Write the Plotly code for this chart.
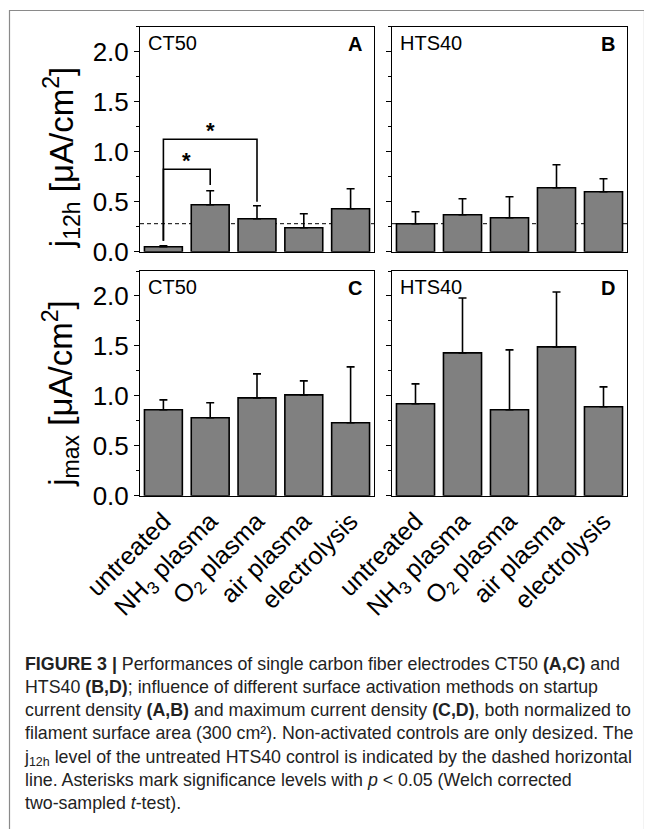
import plotly.graph_objects as go

# ---------------- data ----------------
categories = ["untreated", "NH3 plasma", "O2 plasma", "air plasma", "electrolysis"]
tick_labels = ["untreated", "NH<sub>3</sub> plasma", "O<sub>2</sub> plasma", "air plasma", "electrolysis"]

j12h_ct50 = [0.05, 0.47, 0.33, 0.24, 0.43]
j12h_ct50_err = [0.01, 0.14, 0.13, 0.14, 0.20]
j12h_hts40 = [0.28, 0.37, 0.34, 0.64, 0.60]
j12h_hts40_err = [0.12, 0.16, 0.21, 0.23, 0.13]

jmax_ct50 = [0.86, 0.78, 0.98, 1.01, 0.73]
jmax_ct50_err = [0.10, 0.15, 0.24, 0.14, 0.56]
jmax_hts40 = [0.92, 1.43, 0.86, 1.49, 0.89]
jmax_hts40_err = [0.20, 0.55, 0.60, 0.55, 0.20]

materials = ["CT50", "HTS40", "CT50", "HTS40"]
panel_letters = ["A", "B", "C", "D"]
y_titles = ["j<sub>12h</sub> [μA/cm<sup>2</sup>]", "j<sub>max</sub> [μA/cm<sup>2</sup>]"]

# significance brackets in panel A: (from, to, bracket height, drop level of right leg)
sig_pairs = [("untreated", "O2 plasma", 1.124, 0.50), ("untreated", "NH3 plasma", 0.824, 0.667)]
sig_left_leg_bottom = 0.11

caption = (
    "<b>FIGURE 3 |</b> Performances of single carbon fiber electrodes CT50 <b>(A,C)</b> and<br>"
    "HTS40 <b>(B,D)</b>; influence of different surface activation methods on startup<br>"
    "current density <b>(A,B)</b> and maximum current density <b>(C,D)</b>, both normalized to<br>"
    "filament surface area (300 cm²). Non-activated controls are only desized. The<br>"
    "j<sub>12h</sub> level of the untreated HTS40 control is indicated by the dashed horizontal<br>"
    "line. Asterisks mark significance levels with <i>p</i> &lt; 0.05 (Welch corrected<br>"
    "two-sampled <i>t</i>-test)."
)

# ---------------- layout helpers ----------------
WIN_W, WIN_H = 652, 829
OFF = 8  # default body margin of the html page
W, H = WIN_W - OFF, WIN_H - OFF
FONT = "Liberation Sans, Arial, sans-serif"


def px_x(v):
    """window pixel -> paper fraction"""
    return (v - OFF) / W


def px_y(v):
    return 1 - (v - OFF) / H


xpos = list(range(len(categories)))
col_x = [(140, 374), (392, 627)]
row_y = [(26.7, 251.7), (271, 495.7)]

series = [
    (j12h_ct50, j12h_ct50_err),
    (j12h_hts40, j12h_hts40_err),
    (jmax_ct50, jmax_ct50_err),
    (jmax_hts40, jmax_hts40_err),
]

fig = go.Figure()
layout = dict(
    template="none",
    width=W, height=H, autosize=False,
    margin=dict(l=0, r=0, t=0, b=0, pad=0),
    paper_bgcolor="white", plot_bgcolor="white",
    font=dict(family=FONT, color="black"),
    showlegend=False,
    bargap=0.19,
)

annotations = []
shapes = []

for i, (vals, errs) in enumerate(series):
    r, c = divmod(i, 2)
    n = i + 1
    xa = "x" if n == 1 else f"x{n}"
    ya = "y" if n == 1 else f"y{n}"
    xkey = "xaxis" if n == 1 else f"xaxis{n}"
    ykey = "yaxis" if n == 1 else f"yaxis{n}"
    fig.add_trace(go.Bar(
        x=xpos, y=vals, xaxis=xa, yaxis=ya,
        marker=dict(color="#808080", line=dict(color="black", width=1.6)),
        error_y=dict(type="data", array=errs, arrayminus=[0] * len(errs), symmetric=False,
                     color="black", thickness=1.6, width=4),
    ))
    layout[xkey] = dict(
        domain=[px_x(col_x[c][0]), px_x(col_x[c][1])],
        range=[-0.5, len(categories) - 0.5],
        anchor=ya, automargin=False,
        tickmode="array", tickvals=xpos, ticktext=tick_labels,
        showticklabels=(r == 1), tickangle=-45,
        tickfont=dict(size=25, family=FONT, color="black"),
        ticks="",
        showline=True, linecolor="black", linewidth=1, mirror=True,
        showgrid=False, zeroline=False, fixedrange=True,
    )
    layout[ykey] = dict(
        domain=[px_y(row_y[r][1]), px_y(row_y[r][0])],
        range=[0, 2.25],
        anchor=xa, automargin=False,
        tickmode="linear", tick0=0, dtick=0.5, tickformat=".1f",
        showticklabels=(c == 0),
        tickfont=dict(size=26, family=FONT, color="black"),
        ticks="outside", ticklen=5, tickwidth=1, tickcolor="black",
        minor=dict(dtick=0.25, ticks="outside", ticklen=3, tickwidth=1, tickcolor="black"),
        showline=True, linecolor="black", linewidth=1, mirror=True,
        showgrid=False, zeroline=False, fixedrange=True,
    )
    # material label (top-left) and panel letter (top-right)
    annotations.append(dict(
        xref=f"{xa} domain", yref=f"{ya} domain", x=6 / 234, y=1 - 16 / 225,
        xanchor="left", yanchor="middle", showarrow=False,
        text=materials[i], font=dict(size=20, family=FONT, color="black"),
    ))
    annotations.append(dict(
        xref=f"{xa} domain", yref=f"{ya} domain", x=1 - 10 / 234, y=1 - 17 / 225,
        xanchor="right", yanchor="middle", showarrow=False,
        text=f"<b>{panel_letters[i]}</b>", font=dict(size=20, family=FONT, color="black"),
    ))

# dashed reference line (untreated HTS40 j12h) in panels A and B
ref_level = j12h_hts40[0]
for xa, ya in [("x", "y"), ("x2", "y2")]:
    shapes.append(dict(
        type="line", xref=f"{xa} domain", yref=ya, x0=0, x1=1, y0=ref_level, y1=ref_level,
        line=dict(color="black", width=1, dash="4px,3px"), layer="below",
    ))

# significance brackets in panel A
for a, b, h, drop in sig_pairs:
    xa_i = categories.index(a)
    xb_i = categories.index(b)
    shapes.append(dict(
        type="path", xref="x", yref="y",
        path=f"M {xa_i},{sig_left_leg_bottom} L {xa_i},{h} L {xb_i},{h} L {xb_i},{drop}",
        line=dict(color="black", width=1.6),
    ))
    annotations.append(dict(
        xref="x", yref="y", x=(xa_i + xb_i) / 2, y=h + 0.09, showarrow=False,
        text="<b>*</b>", font=dict(size=22, family=FONT, color="black"),
        xanchor="center", yanchor="middle",
    ))

# y-axis titles
title_shift = [19, 10.5]
for r, title in enumerate(y_titles):
    yc = (row_y[r][0] + row_y[r][1]) / 2 + title_shift[r]
    annotations.append(dict(
        xref="paper", yref="paper", x=px_x(61), y=px_y(yc),
        xanchor="center", yanchor="middle", showarrow=False, textangle=-90,
        text=title, font=dict(size=33, family=FONT, color="black"),
    ))

# caption
annotations.append(dict(
    xref="paper", yref="paper", x=px_x(22), y=px_y(652),
    xanchor="left", yanchor="top", align="left", showarrow=False,
    text=caption, font=dict(size=17.8, family=FONT, color="#222"),
))

# outer frame (open at the bottom of the picture)
shapes.append(dict(
    type="rect", xref="paper", yref="paper",
    x0=px_x(9.5), x1=px_x(644.5), y0=px_y(860), y1=px_y(10.5),
    line=dict(color="#8a8a8a", width=1.2),
))

layout["annotations"] = annotations
layout["shapes"] = shapes
fig.update_layout(**layout)

fig.write_html("out.html")
